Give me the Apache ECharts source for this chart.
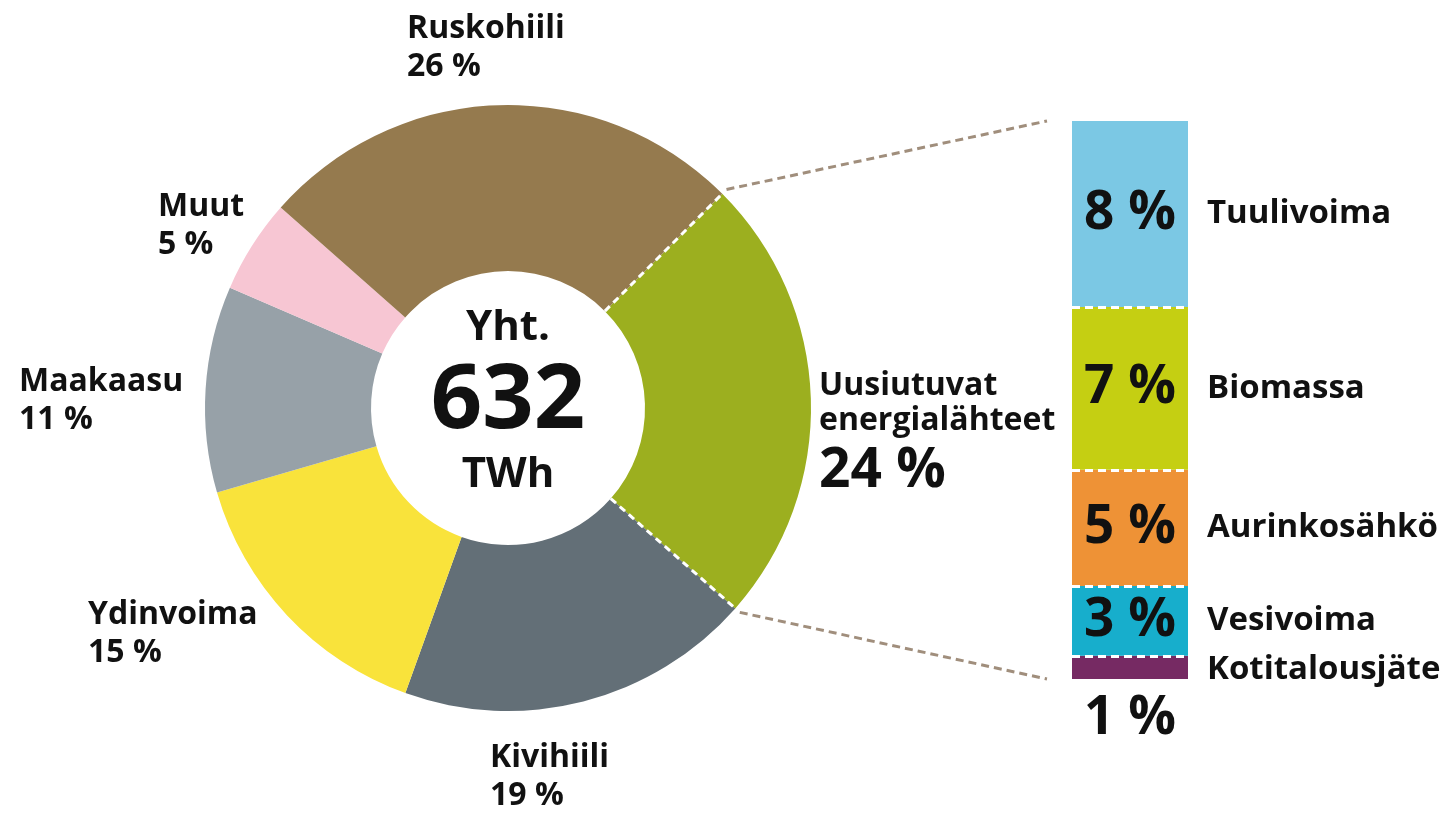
<!DOCTYPE html>
<html>
<head>
<meta charset="utf-8">
<script src="https://cdn.jsdelivr.net/npm/echarts@6/dist/echarts.min.js"></script>
<style>
  html, body { margin: 0; background: #fff; }
  #main { width: 1442px; height: 815px; }
</style>
</head>
<body>
<div id="main"></div>
<script>
// energy sources, clockwise from the renewables slice
const sources = ['Uusiutuvat energialähteet', 'Kivihiili', 'Ydinvoima', 'Maakaasu', 'Muut', 'Ruskohiili']
const shares = [24, 19, 15, 11, 5, 26]
const sourceColors = ['#9CAF1F', '#636F77', '#F9E33B', '#97A1A8', '#F7C6D3', '#957A4E']
const totalTWh = 632

// renewables breakdown, bottom to top
const renewNames = ['Kotitalousjäte', 'Vesivoima', 'Aurinkosähkö', 'Biomassa', 'Tuulivoima']
const renewShares = [1, 3, 5, 7, 8]
const renewColors = ['#762A63', '#17AECC', '#EE9236', '#C5CF12', '#7BC8E4']

const FONT = '"Open Sans", "Noto Sans", sans-serif'
const cx = 508, cy = 408, r0 = 137, r1 = 303
const startAngle = 45
// left-middle anchor of each pie label
const labelPos = [[819, 436], [490, 777], [88, 634], [19, 401], [158, 226], [407, 48]]
const gridLeft = 1072, gridWidth = 116

const myChart = echarts.init(document.getElementById('main'))

const txt = (size, lh, extra) => Object.assign({fontFamily: FONT, fontSize: size, fontWeight: 'bold', color: '#111', lineHeight: lh}, extra || {})

const pieRich = {
  n: txt(32, 38),
  p: txt(32, 38),
  m: txt(32, 35),
  big: txt(55, 65)
}

const renewMax = renewShares.reduce((a, b) => a + b, 0)
const cumulative = []
renewShares.reduce((acc, v) => { cumulative.push(acc + v); return acc + v }, 0)

const barRich = {
  v: txt(53, 53, {width: gridWidth, align: 'center'}),
  n: txt(33, 40, {padding: [0, 0, 0, 19]}),
  n2: txt(33, 40, {padding: [0, 0, 0, gridWidth + 19]})
}

const barSeries = renewNames.map((name, i) => {
  const last = i === 0
  const s = {
    name: name,
    type: 'bar',
    stack: 'renew',
    barWidth: '100%',
    data: [renewShares[i]],
    itemStyle: {color: renewColors[i]},
    label: {
      show: true,
      position: 'insideLeft',
      distance: 0,
      offset: last ? [0, 2] : [0, 0],
      formatter: last ? `{n2|${name}}` : `{v|${renewShares[i]} %}{n|${name}}`,
      rich: barRich
    },
    silent: true
  }
  if (last) {
    // the thinnest segment carries its percentage under the bar
    s.markPoint = {
      silent: true,
      symbol: 'circle',
      symbolSize: 0,
      data: [{coord: [0, 0]}],
      label: {
        show: true,
        position: 'bottom',
        distance: 13,
        formatter: `{v|${renewShares[i]} %}`,
        rich: barRich
      }
    }
  }
  if (i === renewNames.length - 1) {
    s.markLine = {
      silent: true,
      symbol: 'none',
      label: {show: false},
      lineStyle: {color: '#fff', type: [8, 5], width: 3},
      data: cumulative.slice(0, -1).map(v => ({yAxis: v}))
    }
  }
  return s
})

myChart.setOption({
  animation: false,
  grid: {left: gridLeft, top: 121, width: gridWidth, height: 558},
  xAxis: {type: 'category', data: ['Uusiutuvat'], show: false},
  yAxis: {type: 'value', min: 0, max: renewMax, show: false},
  series: [
    {
      type: 'pie',
      center: [cx, cy],
      radius: [r0, r1],
      startAngle: startAngle,
      clockwise: true,
      silent: true,
      itemStyle: {borderWidth: 0},
      data: sources.map((name, i) => ({name: name, value: shares[i], itemStyle: {color: sourceColors[i]}})),
      label: {
        show: true,
        position: 'outside',
        overflow: 'none',
        formatter: (p) => {
          if (p.dataIndex === 0) {
            return p.name.split(' ').map(w => `{m|${w}}`).join('\n') + `\n{big|${p.value} %}`
          }
          return `{n|${p.name}}\n{p|${p.value} %}`
        },
        rich: pieRich
      },
      labelLine: {show: false},
      labelLayout: (params) => {
        const pos = labelPos[params.dataIndex]
        return {x: pos[0], y: pos[1], align: 'left', verticalAlign: 'middle', hideOverlap: false}
      }
    },
    ...barSeries
  ]
})

// decorations derived from the pie angles and the bar axis
const toRad = Math.PI / 180
const sum = shares.reduce((a, b) => a + b, 0)
const a0 = startAngle
const a1 = startAngle - shares[0] / sum * 360
const pt = (a, r) => [cx + r * Math.cos(a * toRad), cy - r * Math.sin(a * toRad)]
const barTop = myChart.convertToPixel({gridIndex: 0}, [0, renewMax])[1]
const barBottom = myChart.convertToPixel({gridIndex: 0}, [0, 0])[1]

const sepLine = (a) => {
  const p = pt(a, r0), q = pt(a, r1)
  return {type: 'line', shape: {x1: p[0], y1: p[1], x2: q[0], y2: q[1]}, style: {stroke: '#fff', lineWidth: 3, lineDash: [7, 5]}, z: 10}
}
const connector = (a, y) => {
  const p = pt(a, r1 + 6)
  return {type: 'line', shape: {x1: p[0], y1: p[1], x2: gridLeft - 25, y2: y}, style: {stroke: '#A08E7C', lineWidth: 3, lineDash: [8, 5]}, z: 10}
}
const centerText = (text, dy, size) => ({
  type: 'text', x: cx, y: cy + dy, z: 10,
  style: {text: text, fontFamily: FONT, fontSize: size, fontWeight: 'bold', fill: '#111', align: 'center', verticalAlign: 'middle'}
})

myChart.setOption({
  graphic: [
    sepLine(a0), sepLine(a1),
    connector(a0, barTop), connector(a1, barBottom),
    centerText('Yht.', -80, 42),
    centerText(String(totalTWh), -6, 90),
    centerText('TWh', 67, 42)
  ]
})
</script>
</body>
</html>
